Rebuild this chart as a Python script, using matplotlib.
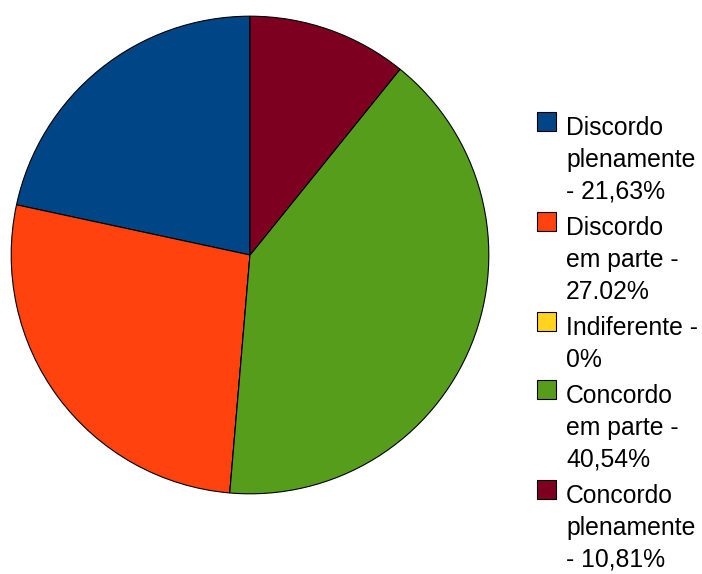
import matplotlib
matplotlib.use("Agg")
import matplotlib.pyplot as plt
from matplotlib.patches import Rectangle

categories = ["Discordo plenamente", "Discordo em parte", "Indiferente",
              "Concordo em parte", "Concordo plenamente"]
values = [21.63, 27.02, 0.0, 40.54, 10.81]
legend_labels = [
    ["Discordo", "plenamente", "- 21,63%"],
    ["Discordo", "em parte -", "27.02%"],
    ["Indiferente -", "0%"],
    ["Concordo", "em parte -", "40,54%"],
    ["Concordo", "plenamente", "- 10,81%"],
]
colors = ["#004586", "#ff420e", "#ffd320", "#579d1c", "#7e0021"]

W, H = 702, 574
fig = plt.figure(figsize=(W / 100, H / 100), dpi=100)
plt.rcParams["font.family"] = ["Liberation Sans", "DejaVu Sans"]

# pie area in pixel coordinates (centre 250,255, radius 240)
cx, cy, r = 250, 255, 240
ax = fig.add_axes([(cx - r) / W, (H - cy - r) / H, 2 * r / W, 2 * r / H])
ax.pie(values, colors=colors, startangle=90, counterclock=True,
       wedgeprops=dict(edgecolor="black", linewidth=0.8))
ax.set_xlim(-1.005, 1.005)
ax.set_ylim(-1.005, 1.005)
ax.set_aspect("equal")
ax.axis("off")

# legend drawn in pixel units
text_x = 566
box_x = 537
line_step = 31.8
entry_gap = 36.3
baseline = 135
fs = 17.8
for color, lines in zip(colors, legend_labels):
    top = baseline - 23
    fig.patches.append(Rectangle((box_x / W, (H - top - 19) / H), 19 / W, 19 / H,
                                 transform=fig.transFigure, facecolor=color,
                                 edgecolor="black", linewidth=0.8))
    y = baseline
    for i, line in enumerate(lines):
        fig.text(text_x / W, (H - y) / H, line, fontsize=fs, color="black",
                 ha="left", va="baseline")
        if i < len(lines) - 1:
            y += line_step
    baseline = y + entry_gap

fig.savefig("out.png", dpi=100, facecolor="white")
